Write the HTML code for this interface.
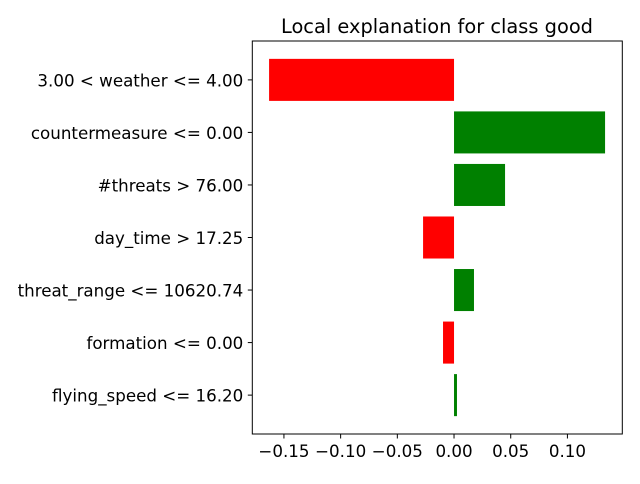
<!DOCTYPE html>
<html><head><meta charset="utf-8"><style>
body{margin:0;background:#fff;font-family:"DejaVu Sans","Liberation Sans",sans-serif;}
svg text{font-family:"DejaVu Sans","Liberation Sans",sans-serif;}
</style></head><body>
<svg id="chart" width="640" height="480" xmlns="http://www.w3.org/2000/svg">
<rect width="640" height="480" fill="#fff"/>
<text x="437" y="33" font-size="19.4" text-anchor="middle">Local explanation for class good</text>
<g id="bars"></g>
<g id="xticks"></g>
<g id="yticks"></g>
<rect x="252.3" y="41" width="370" height="393" fill="none" stroke="#000" stroke-width="1"/>
</svg>
<script>
const categories = ["3.00 < weather <= 4.00","countermeasure <= 0.00","#threats > 76.00","day_time > 17.25","threat_range <= 10620.74","formation <= 0.00","flying_speed <= 16.20"];
const values = [-0.1631, 0.1332, 0.045, -0.0273, 0.0176, -0.0097, 0.0026];
const xTickValues = [-0.15,-0.10,-0.05,0.00,0.05,0.10];
const xTickLabels = ["\u22120.15","\u22120.10","\u22120.05","0.00","0.05","0.10"];

const L=252.3,R=622.3,T=41,B=434;
const xmin=-0.1779,xmax=0.1484;
const n=categories.length;
const ymin=-0.74,ymax=n-1+0.74;
function x(v){return L+(v-xmin)/(xmax-xmin)*(R-L);}
function y(i){return T+(i-ymin)/(ymax-ymin)*(B-T);}
const NS="http://www.w3.org/2000/svg";
const bars=document.getElementById('bars'),xt=document.getElementById('xticks'),yt=document.getElementById('yticks');
const bh=(y(0.4)-y(-0.4));
values.forEach((v,i)=>{
  const r=document.createElementNS(NS,'rect');
  
  
  r.setAttribute('x',Math.min(x(0),x(v)));
  r.setAttribute('width',Math.abs(x(v)-x(0)));
  r.setAttribute('y',y(i)-bh/2);
  r.setAttribute('height',bh);
  r.setAttribute('fill',v<0?'#ff0000':'#008000');
  bars.appendChild(r);
});
categories.forEach((c,i)=>{
  const l=document.createElementNS(NS,'line');
  
  
  l.setAttribute('x1',L-4.5);l.setAttribute('x2',L);l.setAttribute('y1',y(i));l.setAttribute('y2',y(i));l.setAttribute('stroke','#000');
  yt.appendChild(l);
  const t=document.createElementNS(NS,'text');
  
  
  t.setAttribute('x',L-9);t.setAttribute('y',y(i)+6.5);t.setAttribute('text-anchor','end');t.setAttribute('font-size','16.7');
  t.textContent=c;yt.appendChild(t);
});
xTickValues.forEach((v,i)=>{
  const l=document.createElementNS(NS,'line');
  
  
  l.setAttribute('x1',x(v));l.setAttribute('x2',x(v));l.setAttribute('y1',B);l.setAttribute('y2',B+4.5);l.setAttribute('stroke','#000');
  xt.appendChild(l);
  const t=document.createElementNS(NS,'text');
  
  
  t.setAttribute('x',x(v));t.setAttribute('y',B+23);t.setAttribute('text-anchor','middle');t.setAttribute('font-size','16.7');
  t.textContent=xTickLabels[i];xt.appendChild(t);
});
</script>
</body></html>
